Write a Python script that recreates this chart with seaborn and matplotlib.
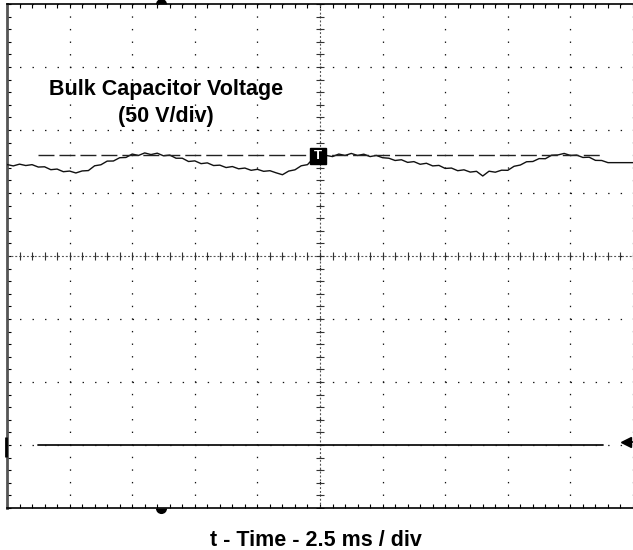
import numpy as np
import pandas as pd
import matplotlib
matplotlib.use("Agg")
import matplotlib.pyplot as plt
import seaborn as sns
from matplotlib.ticker import MultipleLocator

# ---------------- data ----------------
time_ms = np.arange(0, 25.0001, 0.25)          # sample times, ms (2.5 ms / div)
bulk_v = [222.6, 221.5, 222.9, 221.8, 222.5, 220.6, 220.8, 218.5, 219.0, 216.9,
          217.4, 215.9, 217.5, 217.8, 221.6, 222.4, 225.3, 225.4, 228.0, 228.2,
          230.9, 229.8, 231.8, 230.5, 231.6, 229.5, 230.1, 227.6, 227.6, 225.0,
          225.5, 223.3, 223.9, 221.8, 222.1, 220.2, 221.0, 219.2, 219.8, 218.0,
          218.8, 217.2, 217.7, 216.0, 214.5, 217.4, 218.4, 221.6, 222.5, 227.8,
          228.6, 229.8, 228.9, 230.9, 229.8, 231.4, 229.8, 230.8, 228.9, 229.8,
          228.0, 227.6, 225.8, 226.4, 224.3, 224.9, 222.8, 223.6, 221.5, 221.9,
          219.5, 219.8, 217.7, 218.4, 216.6, 217.2, 213.5, 217.3, 216.5, 218.1,
          218.0, 221.2, 222.2, 224.8, 225.0, 227.3, 227.2, 230.0, 230.2, 231.4,
          229.8, 230.1, 228.2, 228.4, 225.9, 225.8, 224.1, 224.1, 224.1, 224.1,
          224.1]
marker_t = [1.23, 23.8]                # extent of ground / trigger-level lines, ms
ground_v = [0.0, 0.0]                  # ground reference, V
trigger_level_v = [230.4, 230.4]       # trigger level, V
trigger_t = 12.42
trigger_v = 229.6
title_lines = ["Bulk Capacitor Voltage", "(50 V/div)"]
x_label = "t - Time - 2.5 ms / div"

df = pd.DataFrame({"t": time_ms, "v": bulk_v})

# ---------------- style ----------------
sns.set_theme(style="white")
plt.rcParams["font.family"] = ["Liberation Sans", "DejaVu Sans"]
plt.rcParams["lines.scale_dashes"] = False

W, H = 633, 550
fig = plt.figure(figsize=(W / 100, H / 100), dpi=100)
ax = fig.add_axes([7 / W, 42 / H, 626 / W, 504 / H])
ax.set_xlim(0, 25)
ax.set_ylim(-50, 350)

ax.xaxis.set_major_locator(MultipleLocator(2.5))
ax.xaxis.set_minor_locator(MultipleLocator(0.5))
ax.yaxis.set_major_locator(MultipleLocator(50))
ax.yaxis.set_minor_locator(MultipleLocator(10))
ax.tick_params(which="both", direction="in", top=True, bottom=True, left=True,
               right=False, labelbottom=False, labelleft=False, color="black")
ax.tick_params(which="major", length=3, width=0.8)
ax.tick_params(which="minor", length=3, width=0.8)

# dotted scope graticule
ax.xaxis.grid(True, which="major", color="#111111", lw=0.9, ls=(0, (1.0, 8.06)))
ax.yaxis.grid(True, which="major", color="#111111", lw=0.9, ls=(0, (1.0, 8.01)))

# centre cross with ticks
minor_x = np.arange(0, 25.001, 0.5)
minor_y = np.arange(-50, 350.001, 10)
ax.axhline(150, color="#555555", lw=0.8, ls=(0, (1.4, 1.4)), zorder=1)
ax.axvline(12.5, color="#555555", lw=0.8, ls=(0, (1.4, 1.4)), zorder=1)
ax.plot(minor_x, np.full(len(minor_x), 150.0), ls="none", marker="|", ms=5.5,
        mew=0.8, color="#333333", zorder=1)
ax.plot(np.full(len(minor_y), 12.5), minor_y, ls="none", marker="_", ms=5.5,
        mew=0.8, color="#333333", zorder=1)

# spines
ax.spines["right"].set_visible(False)
ax.spines["left"].set_color("#555555")
ax.spines["left"].set_linewidth(2.0)
for s in ("top", "bottom"):
    ax.spines[s].set_color("black")
    ax.spines[s].set_linewidth(1.2)

# traces
sns.lineplot(data=df, x="t", y="v", ax=ax, color="#111111", lw=1.0,
             estimator=None, sort=False, zorder=3)
ax.plot(marker_t, ground_v, color="#111111", lw=1.3, zorder=3)
ax.plot(marker_t, trigger_level_v, color="#222222", lw=1.0,
        ls=(0, (11.5, 3.6)), zorder=3)
ax.set_xlabel("")
ax.set_ylabel("")

# trigger marker
ax.plot([trigger_t], [trigger_v], marker="s", ms=11.5, color="black", zorder=6)
ax.text(trigger_t, trigger_v, "T", color="white", fontsize=9.5, fontweight="bold",
        ha="center", va="center", zorder=7)

# position markers
ax.plot([6.15], [350], marker="o", ms=8, fillstyle="top", mec="none",
        color="black", markerfacecoloralt="none", clip_on=False, zorder=8)
ax.plot([6.15], [-50], marker="o", ms=8, fillstyle="bottom", mec="none",
        color="black", markerfacecoloralt="none", clip_on=False, zorder=8)
ax.plot([-0.04], [-1.7], marker="|", ms=14, mew=2.0, color="black",
        clip_on=False, zorder=8)
ax.plot([24.72, 25.0], [2.2, 2.2], color="black", lw=1.2, marker="<",
        markevery=[0], ms=6.5, clip_on=False, zorder=8)

# text
fig.text(166 / W, 1 - 95 / H, title_lines[0], ha="center", va="baseline",
         fontsize=15.5, fontweight="bold", color="black")
fig.text(166 / W, 1 - 122.3 / H, title_lines[1], ha="center", va="baseline",
         fontsize=15.5, fontweight="bold", color="black")
fig.text(316 / W, 1 - 545.5 / H, x_label, ha="center", va="baseline",
         fontsize=15.5, fontweight="bold", color="black")

fig.savefig("out.png", dpi=100, facecolor="white")
